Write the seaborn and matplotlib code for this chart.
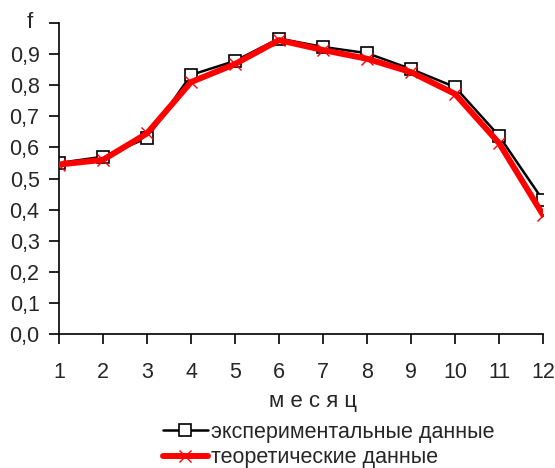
import matplotlib
matplotlib.use("Agg")
import matplotlib.pyplot as plt
import seaborn as sns
import pandas as pd

months = [1, 2, 3, 4, 5, 6, 7, 8, 9, 10, 11, 12]
experimental = [0.55, 0.57, 0.63, 0.833, 0.878, 0.95, 0.923, 0.903, 0.852, 0.794, 0.637, 0.43]
theoretical = [0.545, 0.56, 0.645, 0.81, 0.868, 0.945, 0.913, 0.885, 0.842, 0.772, 0.614, 0.383]
ytick_labels = ["0,0", "0,1", "0,2", "0,3", "0,4", "0,5", "0,6", "0,7", "0,8", "0,9"]
label_exp = "экспериментальные данные"
label_theo = "теоретические данные"

sns.set_style("ticks")
plt.rcParams["font.family"] = ["Liberation Sans", "DejaVu Sans"]

fig = plt.figure(figsize=(5.55, 4.68), dpi=100)
ax = fig.add_axes([59/555, 1-334/468, (543-59)/555, (334-23)/468])

df_e = pd.DataFrame({"month": months, "f": experimental})
df_t = pd.DataFrame({"month": months, "f": theoretical})

sns.lineplot(data=df_e, x="month", y="f", ax=ax, color="black", linewidth=1.8,
             marker="s", markersize=8, markerfacecolor="white", markeredgecolor="black",
             markeredgewidth=1.2, label=label_exp, zorder=2)
sns.lineplot(data=df_t, x="month", y="f", ax=ax, color="red", linewidth=4.3,
             marker="x", markersize=8, markeredgecolor="red", markeredgewidth=1.0,
             label=label_theo, zorder=3)

ax.set_xlim(1, 12)
ax.set_ylim(0, 1.0)
ax.set_xticks(months)
ax.set_xticklabels([str(m) for m in months], fontsize=15.5)
ax.set_yticks([i/10 for i in range(11)])
ax.set_yticklabels(ytick_labels + [""], fontsize=15.5)
ax.tick_params(axis="both", direction="out", length=7, width=1.2, color="black")
ax.tick_params(axis="x", pad=13)
ax.tick_params(axis="y", pad=7)
for s in ["top", "right"]:
    ax.spines[s].set_visible(False)
for s in ["left", "bottom"]:
    ax.spines[s].set_linewidth(1.2)
    ax.spines[s].set_color("black")
ax.set_xlabel("")
ax.set_ylabel("")

fig.text(313/555, 1-401/468, "м е с я ц", ha="center", va="center", fontsize=16)
fig.text(30/555, 1-22/468, "f", ha="center", va="center", fontsize=16)

ax.legend(loc="upper left", bbox_to_anchor=(152/555, 1-411/468), bbox_transform=fig.transFigure,
          frameon=False, fontsize=15.5, handlelength=2.1, handletextpad=0.15,
          borderpad=0, labelspacing=0.2)

fig.savefig("out.png", dpi=100)
